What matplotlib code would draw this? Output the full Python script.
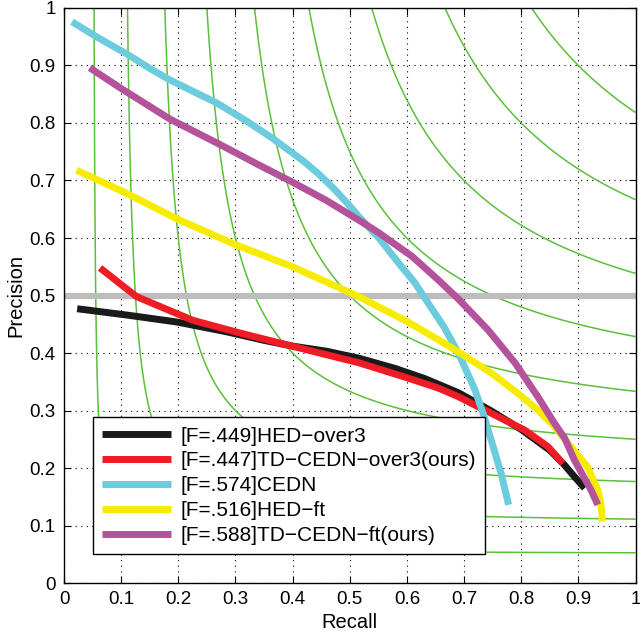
import numpy as np
import matplotlib
matplotlib.use("Agg")
import matplotlib.pyplot as plt

plt.rcParams['font.family'] = ['Liberation Sans', 'DejaVu Sans']

# precision-recall curves
hed_over3_r = [0.023, 0.11, 0.197, 0.284, 0.35, 0.40, 0.46, 0.516, 0.58, 0.63, 0.69, 0.748,
               0.80, 0.85, 0.875, 0.893, 0.911]
hed_over3_p = [0.477, 0.466, 0.454, 0.437, 0.422, 0.412, 0.403, 0.391, 0.373, 0.356, 0.331, 0.299,
               0.267, 0.231, 0.206, 0.185, 0.165]

td_over3_r = [0.063, 0.127, 0.225, 0.307, 0.411, 0.516, 0.60, 0.655, 0.69, 0.748, 0.806, 0.847, 0.873]
td_over3_p = [0.548, 0.498, 0.457, 0.435, 0.409, 0.383, 0.357, 0.339, 0.324, 0.295, 0.266, 0.237, 0.208]

cedn_r = [0.014, 0.06, 0.11, 0.15, 0.185, 0.23, 0.267, 0.32, 0.364, 0.39, 0.42, 0.446, 0.47, 0.498,
          0.516, 0.551, 0.585, 0.614, 0.641, 0.665, 0.69, 0.719, 0.735, 0.75, 0.765, 0.778]
cedn_p = [0.976, 0.948, 0.92, 0.895, 0.875, 0.853, 0.835, 0.803, 0.774, 0.755, 0.733, 0.711, 0.688,
          0.658, 0.637, 0.6, 0.557, 0.522, 0.481, 0.445, 0.4, 0.336, 0.29, 0.24, 0.19, 0.136]

hed_ft_r = [0.022, 0.109, 0.196, 0.301, 0.40, 0.516, 0.60, 0.655, 0.69, 0.748, 0.794, 0.829,
            0.858, 0.887, 0.916, 0.934, 0.94, 0.942]
hed_ft_p = [0.718, 0.678, 0.634, 0.588, 0.55, 0.498, 0.455, 0.423, 0.402, 0.365, 0.33, 0.301,
            0.272, 0.237, 0.202, 0.162, 0.133, 0.107]

td_ft_r = [0.045, 0.1, 0.185, 0.272, 0.341, 0.40, 0.458, 0.516, 0.551, 0.609, 0.655, 0.69,
           0.742, 0.789, 0.829, 0.858, 0.876, 0.893, 0.922, 0.934]
td_ft_p = [0.896, 0.86, 0.807, 0.763, 0.727, 0.697, 0.666, 0.631, 0.609, 0.568, 0.527, 0.494,
           0.44, 0.383, 0.324, 0.278, 0.252, 0.214, 0.162, 0.136]

labels = ['[F=.449]HED\u2212over3', '[F=.447]TD\u2212CEDN\u2212over3(ours)', '[F=.574]CEDN',
          '[F=.516]HED\u2212ft', '[F=.588]TD\u2212CEDN\u2212ft(ours)']
colors = ['#1a1a1a', '#ee1c24', '#6ccbdc', '#f7ec00', '#b4539c']

iso_f_levels = [0.1, 0.2, 0.3, 0.4, 0.5, 0.6, 0.7, 0.8, 0.9]

fig = plt.figure(figsize=(6.4, 6.34), dpi=100)
ax = fig.add_axes([0.1, 0.0804, 0.893, 0.907])

# iso-F contours
g = np.linspace(0.005, 1, 600)
R, P = np.meshgrid(g, g)
F = 2 * P * R / (P + R)
ax.contour(R, P, F, levels=iso_f_levels, colors='#5cbf3a', linewidths=1.1)

ax.axhline(0.5, color='#bdbdbd', lw=4.5, zorder=2)

series = [(hed_over3_r, hed_over3_p), (td_over3_r, td_over3_p), (cedn_r, cedn_p),
          (hed_ft_r, hed_ft_p), (td_ft_r, td_ft_p)]
for (r, p), c, lab in zip(series, colors, labels):
    ax.plot(r, p, color=c, lw=5, label=lab, solid_capstyle='butt',
            solid_joinstyle='round', zorder=3)

ax.set_xlim(0, 1)
ax.set_ylim(0, 1)
ticks = np.round(np.arange(0, 1.01, 0.1), 1)
ticklabels = ['0'] + [f'{t:g}' for t in ticks[1:-1]] + ['1']
ax.set_xticks(ticks)
ax.set_yticks(ticks)
ax.set_xticklabels(ticklabels)
ax.set_yticklabels(ticklabels)
ax.tick_params(direction='in', top=True, right=True, length=5, labelsize=13.5, pad=6)
ax.grid(True, color='black', linestyle=(0, (1, 4)), linewidth=0.8)
ax.set_xlabel('Recall', fontsize=14.5, labelpad=3)
ax.set_ylabel('Precision', fontsize=14.5, labelpad=3)
for s in ax.spines.values():
    s.set_linewidth(1.0)

leg = ax.legend(loc='lower left', bbox_to_anchor=(0.05, 0.05), fontsize=15,
                frameon=True, fancybox=False, edgecolor='black', framealpha=1,
                handlelength=3.3, handletextpad=0.45, borderpad=0.45, labelspacing=0.28,
                borderaxespad=0)
leg.get_frame().set_linewidth(1.0)

fig.savefig('out.png', dpi=100)
